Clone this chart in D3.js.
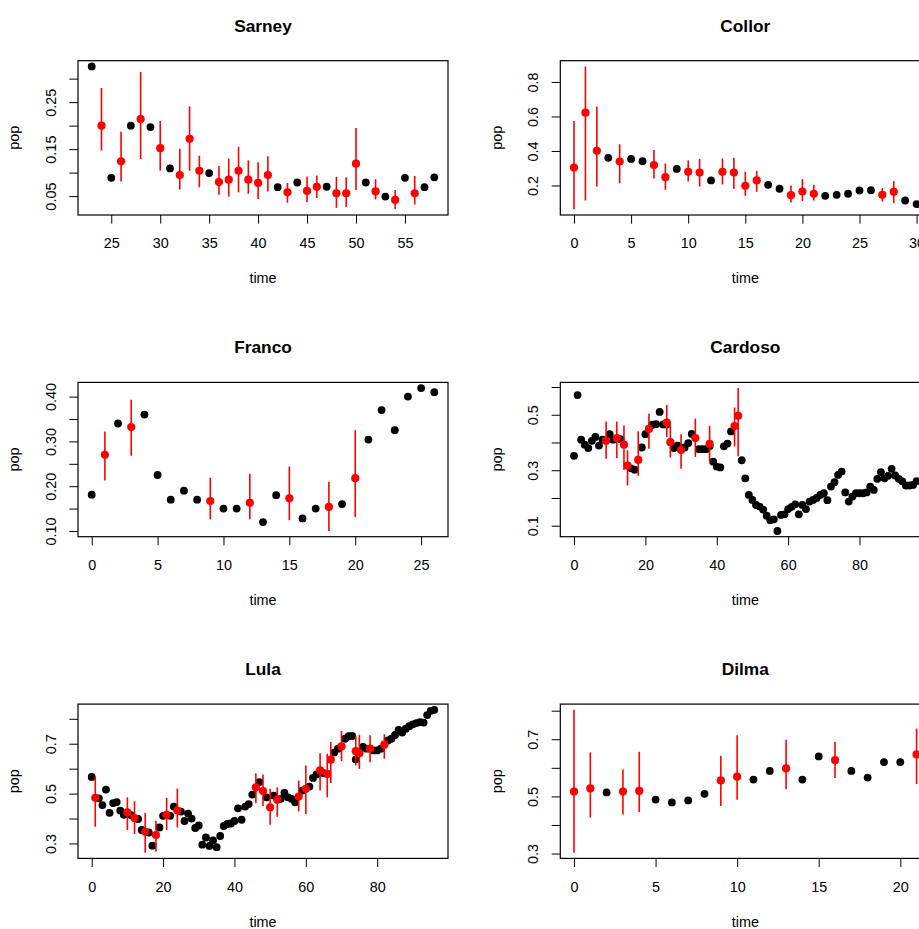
<!DOCTYPE html>
<html>
  <head>
    <meta charset="utf-8">
    <title>pop over time</title>
    <script src="https://d3js.org/d3.v7.min.js"></script>
    <style>
      body { margin: 0; background: #fff; }
      svg text { font-family: "Liberation Sans", Arial, Helvetica, sans-serif; }
    </style>
  </head>
  <body>
    <div id="chart"></div>
    <script>
      // Sarney
      const sarneyTime = [23, 25, 27, 29, 31, 35, 42, 44, 47, 51, 53, 55, 57, 58];
      const sarneyPop = [0.326, 0.089, 0.200, 0.197, 0.109, 0.099, 0.069, 0.079, 0.070, 0.079, 0.049, 0.089, 0.069, 0.090];
      const sarneyPollTime = [24, 26, 28, 30, 32, 33, 34, 36, 37, 38, 39, 40, 41, 43, 45, 46, 48, 49, 50, 52, 54, 56];
      const sarneyPollPop = [0.200, 0.124, 0.214, 0.152, 0.095, 0.172, 0.104, 0.080, 0.085, 0.104, 0.085, 0.078, 0.095, 0.058, 0.061, 0.070, 0.056, 0.056, 0.119, 0.060, 0.042, 0.056];
      const sarneyPollHi = [0.280, 0.187, 0.314, 0.210, 0.151, 0.241, 0.136, 0.114, 0.130, 0.155, 0.126, 0.122, 0.135, 0.078, 0.092, 0.094, 0.091, 0.090, 0.195, 0.086, 0.063, 0.093];
      const sarneyPollLo = [0.147, 0.081, 0.129, 0.104, 0.064, 0.104, 0.069, 0.053, 0.049, 0.058, 0.055, 0.044, 0.060, 0.036, 0.037, 0.046, 0.025, 0.027, 0.063, 0.043, 0.022, 0.032];

      // Collor
      const collorTime = [3, 5, 6, 9, 12, 17, 18, 22, 23, 24, 25, 26, 29, 30];
      const collorPop = [0.360, 0.354, 0.341, 0.296, 0.229, 0.204, 0.181, 0.140, 0.146, 0.152, 0.171, 0.173, 0.113, 0.092];
      const collorPollTime = [0, 1, 2, 4, 7, 8, 10, 11, 13, 14, 15, 16, 19, 20, 21, 27, 28];
      const collorPollPop = [0.304, 0.622, 0.401, 0.339, 0.318, 0.248, 0.279, 0.275, 0.279, 0.275, 0.198, 0.229, 0.144, 0.165, 0.152, 0.146, 0.163];
      const collorPollHi = [0.574, 0.890, 0.657, 0.439, 0.406, 0.327, 0.345, 0.354, 0.356, 0.360, 0.279, 0.285, 0.200, 0.237, 0.204, 0.185, 0.225];
      const collorPollLo = [0.062, 0.113, 0.194, 0.213, 0.240, 0.175, 0.223, 0.194, 0.206, 0.179, 0.140, 0.163, 0.102, 0.109, 0.113, 0.107, 0.098];

      // Franco
      const francoTime = [0, 2, 4, 5, 6, 7, 8, 10, 11, 13, 14, 16, 17, 19, 21, 22, 23, 24, 25, 26];
      const francoPop = [0.181, 0.340, 0.360, 0.225, 0.170, 0.190, 0.170, 0.150, 0.150, 0.120, 0.180, 0.128, 0.150, 0.160, 0.304, 0.370, 0.325, 0.400, 0.419, 0.410];
      const francoPollTime = [1, 3, 9, 12, 15, 18, 20];
      const francoPollPop = [0.270, 0.332, 0.167, 0.163, 0.173, 0.154, 0.218];
      const francoPollHi = [0.322, 0.393, 0.219, 0.228, 0.244, 0.210, 0.325];
      const francoPollLo = [0.213, 0.268, 0.126, 0.126, 0.124, 0.100, 0.131];

      // Cardoso
      const cardosoTime = [0, 1, 2, 3, 4, 5, 6, 7, 8, 10, 11, 13, 16, 17, 19, 20, 22, 23, 24, 25, 26, 28, 29, 31, 32, 33, 35, 36, 37, 38, 39, 40, 41, 42, 43, 44,
        47, 48, 49, 50, 51, 52, 53, 54, 55, 56, 57, 58, 59, 60, 61, 62, 63, 64, 65, 66, 67, 68, 69, 70, 71, 72, 73, 74, 75, 76, 77, 78, 79, 80, 81, 82,
        83, 84, 85, 86, 87, 88, 89, 90, 91, 92, 93, 94, 95, 96];
      const cardosoPop = [0.352, 0.571, 0.410, 0.392, 0.380, 0.406, 0.420, 0.389, 0.410, 0.430, 0.410, 0.412, 0.307, 0.302, 0.382, 0.430, 0.464, 0.466, 0.510, 0.465,
        0.465, 0.380, 0.389, 0.382, 0.398, 0.431, 0.376, 0.376, 0.376, 0.387, 0.331, 0.313, 0.310, 0.386, 0.396, 0.440,
        0.336, 0.271, 0.211, 0.193, 0.175, 0.169, 0.158, 0.136, 0.120, 0.123, 0.081, 0.139, 0.141, 0.160, 0.168, 0.177, 0.141, 0.175, 0.160, 0.187,
        0.193, 0.200, 0.211, 0.217, 0.192, 0.241, 0.257, 0.283, 0.295, 0.220, 0.187, 0.205, 0.217, 0.217, 0.217, 0.220, 0.241, 0.229, 0.269, 0.293,
        0.271, 0.280, 0.305, 0.281, 0.269, 0.260, 0.245, 0.245, 0.247, 0.261];
      const cardosoPollTime = [9, 12, 14, 15, 18, 21, 26, 27, 30, 34, 38, 45, 46];
      const cardosoPollPop = [0.406, 0.416, 0.392, 0.317, 0.337, 0.449, 0.472, 0.401, 0.373, 0.416, 0.395, 0.459, 0.496];
      const cardosoPollHi = [0.476, 0.476, 0.461, 0.372, 0.440, 0.504, 0.535, 0.460, 0.430, 0.486, 0.460, 0.526, 0.596];
      const cardosoPollLo = [0.341, 0.343, 0.301, 0.245, 0.280, 0.377, 0.420, 0.346, 0.305, 0.348, 0.331, 0.386, 0.350];

      // Lula
      const lulaTime = [0, 2, 3, 4, 5, 6, 7, 8, 9, 11, 13, 14, 16, 17, 19, 20, 22, 23, 25, 26, 27, 28, 29, 30, 31, 32, 33, 34, 35, 36, 37, 38, 39, 40,
        41, 42, 43, 44, 45, 47, 49, 51, 53, 54, 55, 56, 57, 59, 61, 62, 63, 65, 68, 69, 71, 72, 73, 74, 76, 77, 79, 80, 81,
        83, 84, 85, 86, 87, 88, 89, 90, 91, 92, 93, 94, 95, 96];
      const lulaPop = [0.567, 0.481, 0.454, 0.516, 0.423, 0.462, 0.466, 0.432, 0.415, 0.414, 0.398, 0.354, 0.344, 0.291, 0.364, 0.411, 0.411, 0.448,
        0.428, 0.390, 0.420, 0.400, 0.362, 0.372, 0.295, 0.324, 0.290, 0.312, 0.285, 0.330, 0.370, 0.378, 0.380, 0.390, 0.441, 0.395, 0.448, 0.458, 0.496,
        0.546, 0.485, 0.492, 0.479, 0.503, 0.485, 0.479, 0.465, 0.512, 0.528, 0.563, 0.577, 0.582, 0.665, 0.680, 0.720, 0.730, 0.731, 0.637,
        0.687, 0.680, 0.673, 0.673, 0.680, 0.713, 0.720, 0.735, 0.755, 0.745, 0.760, 0.770, 0.778, 0.783, 0.787, 0.785, 0.815, 0.832, 0.836];
      const lulaPollTime = [1, 10, 12, 15, 18, 21, 24, 46, 48, 50, 52, 58, 60, 64, 66, 67, 70, 74, 75, 78, 82];
      const lulaPollPop = [0.483, 0.425, 0.402, 0.347, 0.334, 0.415, 0.432, 0.525, 0.510, 0.445, 0.475, 0.488, 0.519, 0.593, 0.579, 0.636, 0.689, 0.670, 0.662, 0.680, 0.696];
      const lulaPollHi = [0.568, 0.485, 0.469, 0.423, 0.391, 0.483, 0.520, 0.582, 0.577, 0.519, 0.525, 0.552, 0.613, 0.662, 0.660, 0.707, 0.751, 0.730, 0.736, 0.734, 0.738];
      const lulaPollLo = [0.367, 0.354, 0.338, 0.263, 0.268, 0.354, 0.364, 0.461, 0.450, 0.375, 0.407, 0.428, 0.418, 0.512, 0.485, 0.542, 0.630, 0.613, 0.599, 0.626, 0.640];

      // Dilma
      const dilmaTime = [2, 5, 6, 7, 8, 11, 12, 14, 15, 17, 18, 19, 20];
      const dilmaPop = [0.514, 0.489, 0.479, 0.486, 0.509, 0.559, 0.589, 0.559, 0.640, 0.589, 0.566, 0.620, 0.620];
      const dilmaPollTime = [0, 1, 3, 4, 9, 10, 13, 16, 21];
      const dilmaPollPop = [0.517, 0.528, 0.517, 0.519, 0.556, 0.569, 0.598, 0.627, 0.647];
      const dilmaPollHi = [0.803, 0.654, 0.594, 0.656, 0.642, 0.714, 0.698, 0.691, 0.737];
      const dilmaPollLo = [0.303, 0.426, 0.437, 0.445, 0.466, 0.488, 0.525, 0.564, 0.543];

      // axis ticks (labelled ticks are a subset, like R drops overlapping labels)
      const sarneyXTicks = [25, 30, 35, 40, 45, 50, 55];
      const sarneyYTicks = [0.05, 0.10, 0.15, 0.20, 0.25, 0.30];
      const sarneyYLabels = [0.05, 0.15, 0.25];
      const collorXTicks = [0, 5, 10, 15, 20, 25, 30];
      const collorYTicks = [0.2, 0.4, 0.6, 0.8];
      const collorYLabels = [0.2, 0.4, 0.6, 0.8];
      const francoXTicks = [0, 5, 10, 15, 20, 25];
      const francoYTicks = [0.10, 0.15, 0.20, 0.25, 0.30, 0.35, 0.40];
      const francoYLabels = [0.10, 0.20, 0.30, 0.40];
      const cardosoXTicks = [0, 20, 40, 60, 80];
      const cardosoYTicks = [0.1, 0.2, 0.3, 0.4, 0.5, 0.6];
      const cardosoYLabels = [0.1, 0.3, 0.5];
      const lulaXTicks = [0, 20, 40, 60, 80];
      const lulaYTicks = [0.3, 0.4, 0.5, 0.6, 0.7, 0.8];
      const lulaYLabels = [0.3, 0.5, 0.7];
      const dilmaXTicks = [0, 5, 10, 15, 20];
      const dilmaYTicks = [0.3, 0.4, 0.5, 0.6, 0.7, 0.8];
      const dilmaYLabels = [0.3, 0.5, 0.7];

      const panels = [
        { title: "Sarney", row: 0, col: 0, time: sarneyTime, pop: sarneyPop, pt: sarneyPollTime, pp: sarneyPollPop, hi: sarneyPollHi, lo: sarneyPollLo,
          xTicks: sarneyXTicks, yTicks: sarneyYTicks, yLabels: sarneyYLabels, fmt: ".2f" },
        { title: "Collor", row: 0, col: 1, time: collorTime, pop: collorPop, pt: collorPollTime, pp: collorPollPop, hi: collorPollHi, lo: collorPollLo,
          xTicks: collorXTicks, yTicks: collorYTicks, yLabels: collorYLabels, fmt: ".1f" },
        { title: "Franco", row: 1, col: 0, time: francoTime, pop: francoPop, pt: francoPollTime, pp: francoPollPop, hi: francoPollHi, lo: francoPollLo,
          xTicks: francoXTicks, yTicks: francoYTicks, yLabels: francoYLabels, fmt: ".2f" },
        { title: "Cardoso", row: 1, col: 1, time: cardosoTime, pop: cardosoPop, pt: cardosoPollTime, pp: cardosoPollPop, hi: cardosoPollHi, lo: cardosoPollLo,
          xTicks: cardosoXTicks, yTicks: cardosoYTicks, yLabels: cardosoYLabels, fmt: ".1f" },
        { title: "Lula", row: 2, col: 0, time: lulaTime, pop: lulaPop, pt: lulaPollTime, pp: lulaPollPop, hi: lulaPollHi, lo: lulaPollLo,
          xTicks: lulaXTicks, yTicks: lulaYTicks, yLabels: lulaYLabels, fmt: ".1f" },
        { title: "Dilma", row: 2, col: 1, time: dilmaTime, pop: dilmaPop, pt: dilmaPollTime, pp: dilmaPollPop, hi: dilmaPollHi, lo: dilmaPollLo,
          xTicks: dilmaXTicks, yTicks: dilmaYTicks, yLabels: dilmaYLabels, fmt: ".1f" }
      ];

      // page layout: 3x2 grid, right column runs off the page
      const width = 919, height = 929;
      const colX = [78, 560.3];
      const rowY = [60.7, 382.4, 704.1];
      const boxW = 370, boxH = 154.3;
      const tick = 8.64;

      const svg = d3.select("#chart")
        .append("svg")
          .attr("width", width)
          .attr("height", height);

      // R style limits: range of the data, widened 4% each side
      function pad(ext) {
        let d = (ext[1] - ext[0]) * 0.04;
        return [ext[0] - d, ext[1] + d];
      }

      panels.forEach(function(p) {
        let g = svg.append("g")
          .attr("transform", "translate(" + colX[p.col] + "," + rowY[p.row] + ")");
        let x = d3.scaleLinear()
          .domain(pad(d3.extent(p.time.concat(p.pt))))
          .range([0, boxW]);
        let y = d3.scaleLinear()
          .domain(pad(d3.extent(p.pop.concat(p.pp, p.hi, p.lo))))
          .range([boxH, 0]);

        // x axis
        let xa = g.append("g")
          .attr("transform", "translate(0," + boxH + ")")
          .call(d3.axisBottom(x).tickValues(p.xTicks).tickSize(tick).tickSizeOuter(0));
        xa.select(".domain").remove();
        xa.selectAll("line").attr("stroke", "#000").attr("stroke-width", 1);
        xa.selectAll("text")
          .attr("y", 33.3)
          .attr("dy", null)
          .attr("fill", "#000")
          .style("font-size", "14.4px");

        // y axis, labels turned like R las = 0
        let fmt = d3.format(p.fmt);
        let ya = g.append("g")
          .call(d3.axisLeft(y).tickValues(p.yTicks).tickSize(tick).tickSizeOuter(0)
            .tickFormat(function(d) {
              return p.yLabels.some(function(v) { return Math.abs(v - d) < 1e-9; }) ? fmt(d) : "";
            }));
        ya.select(".domain").remove();
        ya.selectAll("line").attr("stroke", "#000").attr("stroke-width", 1);
        ya.selectAll("text")
          .attr("x", null)
          .attr("dy", null)
          .attr("text-anchor", "middle")
          .attr("transform", "translate(-22.5,0) rotate(-90)")
          .attr("fill", "#000")
          .style("font-size", "14.4px");

        // titles
        g.append("text")
          .attr("x", boxW / 2)
          .attr("y", -29)
          .attr("text-anchor", "middle")
          .style("font-size", "17.3px")
          .style("font-weight", "bold")
          .text(p.title);
        g.append("text")
          .attr("x", boxW / 2)
          .attr("y", boxH + 68.5)
          .attr("text-anchor", "middle")
          .style("font-size", "14.4px")
          .text("time");
        g.append("text")
          .attr("transform", "translate(-58.7," + (boxH / 2) + ") rotate(-90)")
          .attr("text-anchor", "middle")
          .style("font-size", "14.4px")
          .text("pop");

        // black points first, polls with intervals on top
        g.append("g")
          .selectAll("circle")
          .data(p.time)
          .enter().append("circle")
            .attr("cx", function(d) { return x(d); })
            .attr("cy", function(d, i) { return y(p.pop[i]); })
            .attr("r", 3.9)
            .attr("fill", "#000");
        g.append("g")
          .selectAll("line")
          .data(p.pt)
          .enter().append("line")
            .attr("x1", function(d) { return x(d); })
            .attr("x2", function(d) { return x(d); })
            .attr("y1", function(d, i) { return y(p.lo[i]); })
            .attr("y2", function(d, i) { return y(p.hi[i]); })
            .attr("stroke", "#ff0000")
            .attr("stroke-width", 1.6);
        g.append("g")
          .selectAll("circle")
          .data(p.pt)
          .enter().append("circle")
            .attr("cx", function(d) { return x(d); })
            .attr("cy", function(d, i) { return y(p.pp[i]); })
            .attr("r", 4.1)
            .attr("fill", "#ff0000");

        // plot box
        g.append("rect")
          .attr("width", boxW)
          .attr("height", boxH)
          .attr("fill", "none")
          .attr("stroke", "#000")
          .attr("stroke-width", 1.2);
      });
    </script>
  </body>
</html>
